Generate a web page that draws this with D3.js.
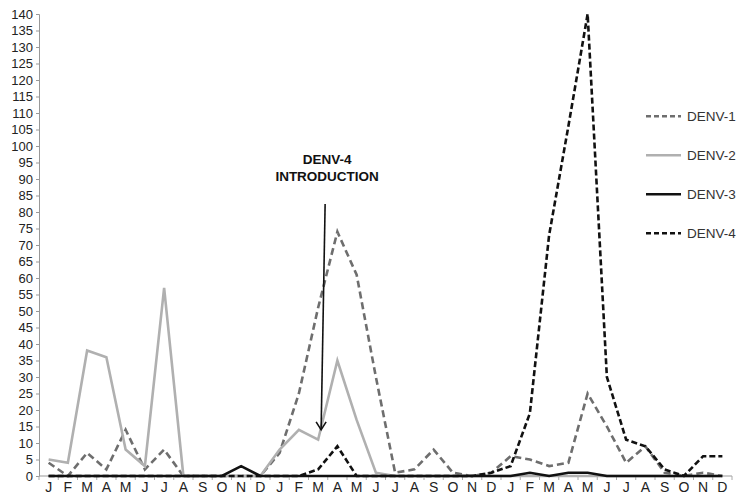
<!DOCTYPE html>
<html>
<head>
<meta charset="utf-8">
<script src="https://cdn.jsdelivr.net/npm/d3@7"></script>
<style>
  body { margin: 0; background: #fff; }
  svg { display: block; font-family: "Liberation Sans", Arial, sans-serif; }
</style>
</head>
<body>
<svg id="chart"></svg>
<script>
// month labels, three years
const monthLetters = ['J','F','M','A','M','J','J','A','S','O','N','D'];
const months = d3.range(36);

const denv1 = [4,0,7,2,14,2,8,0,0,0,0,0,
               7,25,51,74,61,30,1,2,8,1,0,1,
               6,5,3,4,25,15,4,9,1,0,1,0];
const denv2 = [5,4,38,36,8,3,57,0,0,0,0,0,
               8,14,11,35,17,1,0,0,0,0,0,0,
               0,0,0,0,0,0,0,0,0,0,0,0];
const denv3 = [0,0,0,0,0,0,0,0,0,0,3,0,
               0,0,0,0,0,0,0,0,0,0,0,0,
               0,1,0,1,1,0,0,0,0,0,0,0];
const denv4 = [0,0,0,0,0,0,0,0,0,0,0,0,
               0,0,2,9,0,0,0,0,0,0,0,1,
               3,19,73,106,140,30,11,9,2,0,6,6];

const seriesNames = ['DENV-1','DENV-2','DENV-3','DENV-4'];
const yTicks = d3.range(0, 141, 5);

class LineChart {
    constructor(config) {
        this.config = {
            parent: config.parent,
            width: config.width || 737,
            height: config.height || 497,
            margin: config.margin || {top: 14, right: 5, bottom: 21, left: 39}
        };
        this.init();
    }

    init() {
        let self = this;
        self.svg = d3.select(self.config.parent)
            .attr('width', self.config.width)
            .attr('height', self.config.height);

        self.inner_width = self.config.width - self.config.margin.left - self.config.margin.right;
        self.inner_height = self.config.height - self.config.margin.top - self.config.margin.bottom;

        self.chart = self.svg.append('g')
            .attr('transform', `translate(${self.config.margin.left}, ${self.config.margin.top})`);

        self.xscale = d3.scaleBand().domain(months).range([0, 693]);
        self.yscale = d3.scaleLinear().domain([0, 140]).range([self.inner_height, 0]);
    }

    render() {
        let self = this;
        const x = i => self.xscale(i) + self.xscale.bandwidth() / 2;
        const y = self.yscale;

        // y axis
        const yAxis = d3.axisLeft(y).tickValues(yTicks).tickSize(3).tickPadding(3);
        const yg = self.chart.append('g').call(yAxis);
        yg.select('.domain').attr('stroke', '#999');
        yg.selectAll('.tick line').attr('stroke', '#999');
        yg.selectAll('text').style('font-size', '13px').attr('fill', '#222');

        // x axis with ticks at band boundaries
        const xg = self.chart.append('g')
            .attr('transform', `translate(0, ${self.inner_height})`);
        xg.append('line')
            .attr('x1', 0).attr('x2', self.xscale.range()[1])
            .attr('stroke', '#999');
        xg.selectAll('.bt')
            .data(months.concat([36]))
            .join('line')
            .attr('x1', d => d * self.xscale.step())
            .attr('x2', d => d * self.xscale.step())
            .attr('y1', 0).attr('y2', 4)
            .attr('stroke', '#aaa');
        xg.selectAll('.lbl')
            .data(months)
            .join('text')
            .attr('x', d => x(d))
            .attr('y', 16)
            .attr('text-anchor', 'middle')
            .style('font-size', '14px')
            .attr('fill', '#222')
            .text(d => monthLetters[d % 12]);

        const styles = [
            {data: denv1, color: '#6e6e6e', dash: '7,4'},
            {data: denv2, color: '#b0b0b0', dash: null},
            {data: denv3, color: '#111', dash: null},
            {data: denv4, color: '#111', dash: '6,3'}
        ];

        const line = d3.line().x((d, i) => x(i)).y(d => y(d));

        styles.forEach(s => {
            self.chart.append('path')
                .datum(s.data)
                .attr('d', line)
                .attr('fill', 'none')
                .attr('stroke', s.color)
                .attr('stroke-width', 2.6)
                .attr('stroke-dasharray', s.dash)
                .attr('stroke-linejoin', 'miter');
        });

        // legend, right side
        const legend = self.chart.append('g');
        styles.forEach((s, i) => {
            const ly = y(109) + i * 39;
            legend.append('line')
                .attr('x1', 607).attr('x2', 642)
                .attr('y1', ly).attr('y2', ly)
                .attr('stroke', s.color)
                .attr('stroke-width', 2.6)
                .attr('stroke-dasharray', s.dash ? '5,3' : null);
            legend.append('text')
                .attr('x', 648).attr('y', ly + 5)
                .style('font-size', '13.5px')
                .attr('fill', '#333')
                .text(seriesNames[i]);
        });

        // annotation arrow for DENV-4 introduction (March, year 2)
        const ax = x(14) + 3;
        const ann = self.chart.append('g');
        ann.append('line')
            .attr('x1', ax + 4).attr('y1', y(82.4))
            .attr('x2', ax).attr('y2', y(14))
            .attr('stroke', '#111').attr('stroke-width', 1.6);
        ann.append('path')
            .attr('d', `M${ax - 5},${y(14) - 8} L${ax},${y(14)} L${ax + 5},${y(14) - 8}`)
            .attr('fill', 'none').attr('stroke', '#111').attr('stroke-width', 1.6);
        ann.append('text')
            .attr('x', ax + 6).attr('y', y(94.5))
            .attr('text-anchor', 'middle')
            .style('font-size', '13.5px').style('font-weight', 'bold')
            .attr('fill', '#111')
            .text('DENV-4');
        ann.append('text')
            .attr('x', ax + 6).attr('y', y(89.5))
            .attr('text-anchor', 'middle')
            .style('font-size', '13.5px').style('font-weight', 'bold')
            .attr('fill', '#111')
            .text('INTRODUCTION');
    }
}

const chart = new LineChart({parent: '#chart', width: 737, height: 497});
chart.render();
</script>
</body>
</html>
